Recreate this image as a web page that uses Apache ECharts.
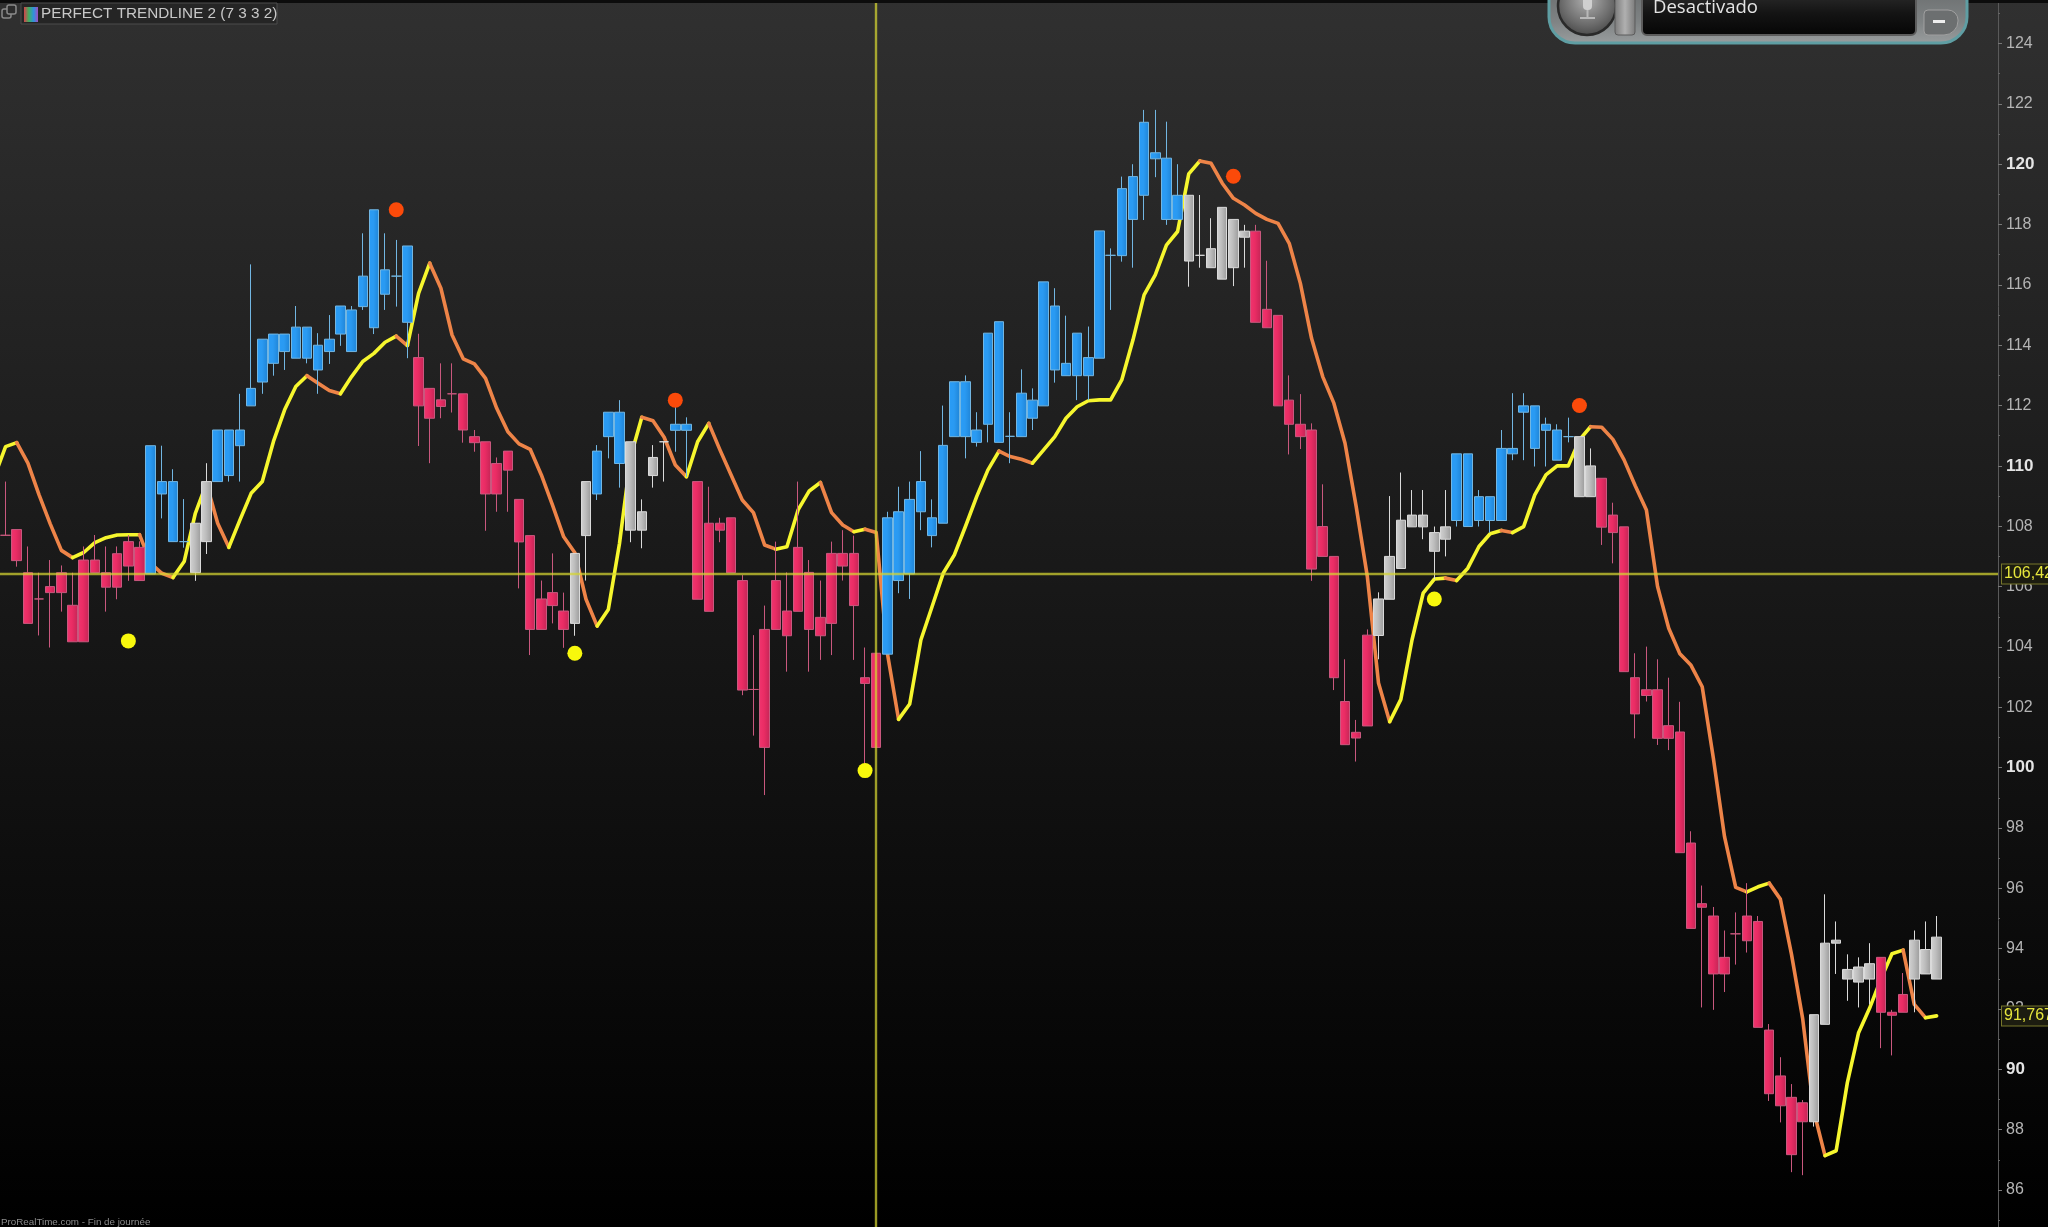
<!DOCTYPE html>
<html><head><meta charset="utf-8">
<style>html,body{margin:0;padding:0;background:#000}#c{width:2048px;height:1227px}</style>
<script src="https://cdn.jsdelivr.net/npm/echarts@6/dist/echarts.min.js"></script>
</head><body><div id="c"></div>
<script>
const bodyTop=[107.70,107.89,106.46,105.59,106.00,106.46,105.38,106.88,106.88,106.46,107.09,107.49,107.30,
110.67,109.48,109.48,107.49,108.10,109.48,111.19,111.19,111.19,112.57,114.20,114.37,114.37,114.60,114.60,114.00,114.20,115.30,115.17,116.29,118.49,116.50,116.29,117.29,
113.59,112.57,112.19,112.39,112.39,110.97,110.80,110.08,110.49,108.89,107.69,105.59,105.80,105.19,
107.10,109.48,110.49,111.78,111.78,110.80,108.48,110.28,110.80,111.38,111.38,
109.48,108.10,108.10,108.28,106.20,102.59,104.58,106.20,105.19,107.30,106.47,104.98,107.10,107.10,107.10,102.98,103.79,
108.28,108.48,108.89,109.48,108.28,110.68,112.79,112.79,111.19,114.40,114.78,110.98,112.41,112.18,116.10,115.30,113.40,114.40,113.59,117.79,116.98,119.19,119.59,121.39,120.38,120.20,118.97,
118.97,116.98,117.20,118.57,118.17,117.78,
117.78,115.19,114.99,112.18,111.38,111.19,107.99,107.00,102.19,101.17,104.39,
105.59,107.00,108.20,108.37,108.37,107.79,107.98,
110.40,110.40,108.98,108.98,110.58,110.58,111.99,111.99,111.38,111.19,110.97,
110.97,110.00,
109.59,108.37,107.98,102.98,102.58,102.58,101.39,101.18,97.50,95.49,95.08,93.71,94.49,95.08,94.90,91.30,89.78,89.07,88.89,
91.81,94.18,94.28,93.31,93.39,93.50,
93.71,91.89,92.48,
94.28,93.97,94.38];
const bodyBottom=[107.70,106.86,104.78,105.59,105.80,105.80,104.17,104.17,106.46,105.98,105.98,106.68,106.20,
106.42,109.07,107.49,107.49,106.46,107.49,109.48,109.68,110.67,111.99,112.78,113.40,113.79,113.57,113.57,113.18,113.79,114.37,113.79,115.28,114.58,115.69,116.29,114.76,
111.99,111.58,111.97,112.39,111.19,110.77,109.07,109.07,109.86,107.48,104.58,104.58,105.37,104.58,
104.78,107.69,109.07,110.97,110.08,107.87,107.87,109.68,110.80,111.18,111.18,
105.58,105.18,107.87,106.46,102.57,102.59,100.67,104.58,104.37,105.18,104.58,104.37,104.78,106.68,105.37,102.79,100.67,
103.76,106.20,106.42,108.48,107.69,108.10,110.97,110.97,110.78,111.38,110.78,110.98,110.97,111.58,111.99,113.18,112.99,112.99,112.99,113.57,116.98,116.97,118.17,118.97,120.18,118.17,118.17,
116.79,116.98,116.57,116.19,116.57,117.58,
114.76,114.58,111.99,111.38,110.97,106.58,107.00,102.98,100.76,100.98,101.38,
104.38,105.58,106.60,107.98,107.98,107.17,107.57,
108.19,107.99,108.19,108.19,108.19,110.40,111.78,110.58,111.18,110.19,110.97,
108.98,108.98,
107.97,107.79,103.18,101.78,102.39,100.97,100.97,97.18,94.67,95.37,93.16,93.16,94.49,94.26,91.39,89.19,88.79,87.17,88.26,
88.26,91.49,94.18,92.99,92.89,92.99,
91.89,91.79,91.89,
92.99,93.16,92.99];
const wickLow=[107.70,106.66,104.78,104.38,103.98,105.17,104.17,104.17,106.46,105.17,105.58,106.19,106.20,
106.42,108.26,107.49,107.29,106.19,107.08,109.48,109.48,109.48,111.99,112.39,112.99,113.18,113.57,113.40,112.39,113.38,113.98,113.79,115.17,114.37,115.17,115.28,113.57,
110.66,110.09,111.58,111.77,110.77,110.47,107.85,108.48,108.48,105.94,103.73,104.58,104.78,103.97,
104.37,106.20,108.87,110.25,109.28,107.47,107.27,109.28,109.48,110.47,109.64,
105.58,105.18,107.47,106.46,102.40,101.06,99.09,104.58,103.18,105.18,103.18,103.57,103.73,106.20,103.57,100.08,100.67,
103.76,105.78,105.59,107.87,107.30,108.10,110.97,110.25,110.64,110.78,110.78,110.09,110.97,111.19,111.99,112.76,112.99,112.18,112.18,113.57,115.17,116.77,116.57,118.15,119.57,117.99,118.17,
115.94,116.57,116.57,116.19,115.96,116.57,
114.76,114.58,111.99,110.38,110.56,106.19,107.00,102.57,100.76,100.20,101.38,
103.59,105.58,106.60,107.98,107.57,106.25,107.00,
107.99,107.99,107.99,107.79,108.19,110.19,110.19,109.98,109.98,110.19,110.78,
108.98,108.98,
107.38,106.77,103.18,100.97,102.19,100.75,100.58,97.18,94.67,92.05,91.97,92.56,93.47,93.87,91.39,88.95,88.24,86.59,86.49,
88.10,91.49,93.16,92.27,92.05,92.15,
90.70,90.46,91.89,
91.89,93.16,92.99];
const wickHigh=[109.48,107.89,107.33,106.46,106.88,106.70,106.46,107.33,107.71,107.33,107.33,107.71,107.50,
110.67,110.67,109.89,108.90,108.10,110.09,111.19,111.19,112.39,116.68,114.20,114.37,114.37,115.30,114.60,114.40,115.00,115.30,115.30,117.71,118.49,117.71,117.49,117.29,
114.38,112.57,113.40,113.40,112.39,111.19,110.80,110.28,110.49,108.89,107.69,106.20,107.10,105.80,
107.10,109.48,110.69,111.78,112.18,110.80,108.89,110.69,110.80,111.96,111.61,
109.48,109.31,108.28,108.28,106.38,104.39,105.37,107.49,106.47,109.48,106.88,106.20,107.49,107.87,107.69,103.98,103.79,
108.48,109.31,109.48,110.49,108.89,112.00,112.79,113.00,111.78,114.40,114.78,111.78,113.20,112.57,116.10,115.89,114.98,114.40,114.62,117.79,117.21,119.59,120.00,121.80,121.80,121.41,120.00,
118.97,118.98,118.21,118.57,118.17,117.99,
117.99,116.80,114.99,113.00,112.38,111.41,109.39,107.00,103.59,101.58,104.58,
105.81,109.00,109.78,109.20,109.20,107.99,109.20,
110.40,110.40,109.20,108.98,111.19,112.41,112.41,111.99,111.60,111.38,111.60,
110.97,110.58,
109.59,108.78,107.98,103.79,104.01,103.59,102.98,102.18,97.89,96.09,95.38,94.60,95.20,96.17,95.08,91.50,90.40,89.51,88.98,
91.81,95.80,94.90,93.81,93.71,94.18,
93.71,91.97,93.19,
94.60,94.90,95.08];
const toneRuns=[['p',13],['b',4],['g',2],['b',18],['p',14],['g',2],['b',3],['g',4],['b',2],['p',17],['b',27],['g',6],['p',11],['g',7],['b',11],['g',2],['p',19],['g',6],['p',3],['g',3]];
// first value lies just left of the picture
const trend=[109.65,110.64,110.77,110.09,109.04,108.08,107.20,106.96,107.13,107.46,107.62,107.71,107.72,107.72,106.77,106.44,106.30,106.83,108.43,109.42,108.10,107.30,108.21,109.09,109.48,110.81,111.86,112.63,112.99,112.74,112.50,112.39,112.96,113.46,113.73,114.10,114.30,113.99,115.72,116.72,115.89,114.34,113.55,113.38,
112.90,111.91,111.13,110.73,110.55,109.70,108.70,107.65,107.12,105.58,104.69,105.24,107.43,110.30,111.61,111.50,110.95,110.03,109.64,110.80,111.41,110.53,109.70,108.87,108.45,107.38,107.24,107.32,108.54,109.17,109.45,108.45,108.04,107.82,107.90,107.79,103.79,101.60,102.11,104.23,105.33,106.44,107.05,
108.00,108.98,109.86,110.49,110.31,110.22,110.09,110.53,110.97,111.58,111.96,112.16,112.19,112.19,112.85,114.17,115.67,116.33,117.32,117.77,119.68,120.11,120.03,119.37,118.87,118.65,118.37,118.17,118.04,117.38,116.05,114.23,112.96,112.08,
110.75,108.65,106.33,102.80,101.52,102.26,104.23,105.78,106.25,106.28,106.20,106.61,107.33,107.75,107.86,107.79,107.99,109.04,109.70,110.00,110.00,110.86,111.30,111.28,110.88,110.20,109.34,108.54,106.00,104.62,103.77,103.39,102.68,
100.31,97.71,96.03,95.88,96.05,96.17,95.64,93.81,91.68,88.60,87.14,87.30,89.55,91.20,92.03,92.98,93.83,93.95,92.15,91.71,91.77];
const buyDots=[[11,104.2],[51,103.79],[77,99.9],[128,105.59]];
const sellDots=[[35,118.49],[60,112.18],[110,119.6],[141,112.0]];
const crossBar=78, crossPrice=106.42, lastPrice=91.767;
const crossLabel='106,42', lastLabel='91,767';
const boldTicks=[120,110,100,90];
const title='PERFECT TRENDLINE 2 (7 3 3 2)', footer='ProRealTime.com - Fin de journée', voiceText='Desactivado';

const tones=toneRuns.flatMap(([t,n])=>Array(n).fill(t));
const categories=Array.from({length:180},(_,i)=>'c'+(i-1));
const pick=t=>['-'].concat(bodyTop.map((v,i)=>tones[i]===t?[bodyBottom[i],v,wickLow[i],wickHigh[i]]:'-'));
const grad=(a,b,c)=>new echarts.graphic.LinearGradient(0,0,1,0,[{offset:0,color:a},{offset:.45,color:b},{offset:1,color:c}]);
function candle(t,fill,edge){return {type:'candlestick',z:3,barWidth:10,data:pick(t),animation:false,silent:true,
  itemStyle:{color:fill,color0:fill,borderColor:edge,borderColor0:edge,borderColorDoji:edge,borderWidth:1}};}
const trendRuns=[];
for(let i=0;i<trend.length-1;i++){
  const up=trend[i+1]>=trend[i], last=trendRuns[trendRuns.length-1];
  if(last&&last.up===up) last.end=i+1; else trendRuns.push({up,start:i,end:i+1});
}
const trendSeries=trendRuns.map(r=>({type:'line',z:2,symbol:'none',animation:false,silent:true,
  data:trend.map((v,i)=>i>=r.start&&i<=r.end?v:'-'),
  lineStyle:{color:r.up?'#f6f62e':'#ee8448',width:3.6,cap:'round',join:'round'}}));
const gradientBg=new echarts.graphic.LinearGradient(0,0,0,1,[{offset:0,color:'#303030'},{offset:.5,color:'#171717'},{offset:1,color:'#000000'}]);
const labelBox=text=>({show:true,position:'end',distance:4,formatter:text,color:'#e6e63c',fontFamily:'Liberation Sans',fontSize:16,
  backgroundColor:'#1c1c10',borderColor:'#77772a',borderWidth:1,padding:[2,2,1,2],align:'left'});
const chart=echarts.init(document.getElementById('c'),null,{renderer:'canvas',width:2048,height:1227});
chart.setOption({
  animation:false,
  backgroundColor:gradientBg,
  grid:{left:-11.16,width:2009.16,top:-16.8,height:1267.1,containLabel:false,outerBoundsMode:'none'},
  xAxis:{type:'category',data:categories,show:false,boundaryGap:true},
  yAxis:{type:'value',position:'right',min:84,max:126,interval:2,scale:true,
    splitLine:{show:false},
    axisLine:{show:true,lineStyle:{color:'#5a5a5a',width:1}},
    axisTick:{show:true,length:4,lineStyle:{color:'#777'}},
    minorTick:{show:true,splitNumber:2,length:2,lineStyle:{color:'#666'}},
    axisLabel:{margin:8,fontFamily:'Liberation Sans',fontSize:16,color:'#b4b4b4',
      formatter:v=>boldTicks.includes(v)?'{b|'+v+'}':String(v),
      rich:{b:{fontFamily:'Liberation Sans',fontSize:17,fontWeight:'bold',color:'#e4e4e4'}}}},
  series:[
    ...trendSeries,
    candle('p',grad('#f0356f','#ea2c64','#c42556'),'#c9587e'),
    candle('b',grad('#2a9cf6','#2a9af2','#1f84d6'),'#72b6e2'),
    candle('g',grad('#d2d2d2','#bdbdbd','#9a9a9a'),'#dadada'),
    {type:'scatter',z:4,symbolSize:15,animation:false,silent:true,itemStyle:{color:'#f8f80c',opacity:1},
      data:buyDots.map(d=>['c'+d[0],d[1]]),
      markLine:{silent:true,symbol:'none',animation:false,z:6,precision:3,
        lineStyle:{type:'solid',color:'rgba(214,214,50,0.72)',width:2.4},
        data:[{xAxis:'c'+crossBar,label:{show:false}},
              {yAxis:crossPrice,label:labelBox(crossLabel)},
              {yAxis:lastPrice,lineStyle:{color:'rgba(0,0,0,0)',opacity:1},label:labelBox(lastLabel)}]}},
    {type:'scatter',z:4,symbolSize:15,animation:false,silent:true,itemStyle:{color:'#fb4a0a',opacity:1},data:sellDots.map(d=>['c'+d[0],d[1]])}
  ],
  graphic:[
    {type:'rect',z:50,shape:{x:0,y:0,width:2048,height:3},style:{fill:'#0c0c0c'}},
    {type:'rect',z:50,shape:{x:21,y:3,width:256,height:21},style:{fill:'#252525',stroke:'#4c4c4c',lineWidth:1}},
    {type:'rect',z:51,shape:{x:2,y:9,width:9,height:9,r:2},style:{fill:'none',stroke:'#8a8a8a',lineWidth:1.5}},
    {type:'rect',z:51,shape:{x:7,y:5,width:9,height:9,r:2},style:{fill:'#2c2c2c',stroke:'#8a8a8a',lineWidth:1.5}},
    {type:'rect',z:51,shape:{x:24,y:7,width:14,height:15},style:{fill:new echarts.graphic.LinearGradient(0,0,1,0,[{offset:0,color:'#d8404a'},{offset:.35,color:'#40b060'},{offset:.7,color:'#3090e0'},{offset:1,color:'#a050c0'}])}},
    {type:'text',z:51,style:{x:41,y:14,text:title,fill:'#c8c8c8',font:'15.3px "Liberation Sans"',textVerticalAlign:'middle'}},
    {type:'text',z:51,style:{x:1,y:1222,text:footer,fill:'#8c8c8c',font:'9.8px "Liberation Sans"',textVerticalAlign:'middle'}},
    {type:'rect',z:60,shape:{x:1549,y:-30,width:418,height:73,r:[0,0,26,26]},style:{fill:new echarts.graphic.LinearGradient(0,0,0,1,[{offset:0,color:'#5e6162'},{offset:.7,color:'#7f8384'},{offset:1,color:'#9a9e9f'}]),stroke:'#5f9ea3',lineWidth:3}},
    {type:'rect',z:61,shape:{x:1642,y:-20,width:274,height:55,r:5},style:{fill:new echarts.graphic.LinearGradient(0,0,0,1,[{offset:0,color:'#3a3a3a'},{offset:.6,color:'#141414'},{offset:1,color:'#050505'}]),stroke:'#5c5c5c',lineWidth:2}},
    {type:'circle',z:61,shape:{cx:1587,cy:6,r:29},style:{fill:new echarts.graphic.RadialGradient(.5,.4,.6,[{offset:0,color:'#b0b0b0'},{offset:.7,color:'#6a6a6a'},{offset:1,color:'#4a4a4a'}]),stroke:'#2a2a2a',lineWidth:2.5}},
    {type:'rect',z:62,shape:{x:1583,y:-6,width:9,height:16,r:4},style:{fill:'#d0d0d0'}},
    {type:'rect',z:62,shape:{x:1586.5,y:10,width:2,height:8},style:{fill:'#b8b8b8'}},
    {type:'rect',z:62,shape:{x:1580,y:17,width:15,height:2},style:{fill:'#b8b8b8'}},
    {type:'rect',z:61,shape:{x:1615,y:-10,width:20,height:45,r:3},style:{fill:new echarts.graphic.LinearGradient(0,0,1,0,[{offset:0,color:'#7a7a7a'},{offset:.5,color:'#b0b0b0'},{offset:1,color:'#7a7a7a'}]),stroke:'#5c5c5c',lineWidth:1}},
    {type:'rect',z:61,shape:{x:1924,y:10,width:34,height:25,r:[4,10,14,4]},style:{fill:'#6c6f70',stroke:'#a0a0a0',lineWidth:1}},
    {type:'rect',z:62,shape:{x:1933,y:20,width:12,height:3},style:{fill:'#eee'}},
    {type:'text',z:62,style:{x:1653,y:8,text:voiceText,fill:'#e4e4e4',font:'18.5px "Open Sans"',textVerticalAlign:'middle'}}
  ]
});
</script></body></html>
